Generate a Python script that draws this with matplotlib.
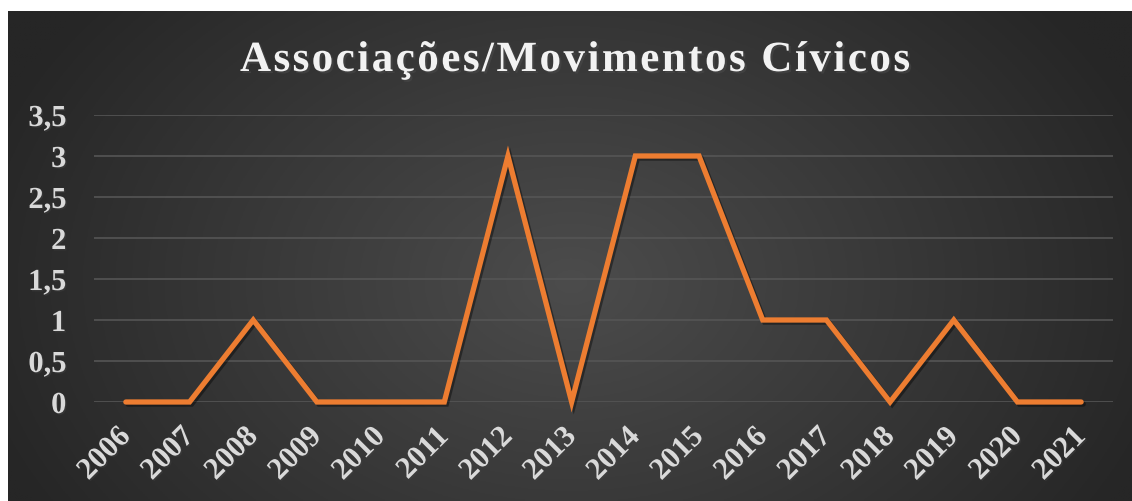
import numpy as np
import matplotlib
matplotlib.use("Agg")
import matplotlib.pyplot as plt
import matplotlib.patheffects as pe

# データ
years = ["2006", "2007", "2008", "2009", "2010", "2011", "2012", "2013",
         "2014", "2015", "2016", "2017", "2018", "2019", "2020", "2021"]
values = [0, 0, 1, 0, 0, 0, 3, 0, 3, 3, 1, 1, 0, 1, 0, 0]
yticks = [0, 0.5, 1, 1.5, 2, 2.5, 3, 3.5]
ytick_labels = ["0", "0,5", "1", "1,5", "2", "2,5", "3", "3,5"]
title = "Associações/Movimentos Cívicos"

W, H = 1132, 502
fig = plt.figure(figsize=(W / 100, H / 100), dpi=100, facecolor="white")

# 背景のグラデーション
bg = fig.add_axes([8 / W, 0, 1 - 8 / W, (H - 12) / H])
ny, nx = 200, 450
yy, xx = np.mgrid[0:ny, 0:nx]
cx, cy = nx * 0.5, ny * 0.55
r = np.sqrt(((xx - cx) / (nx * 0.55)) ** 2 + ((yy - cy) / (ny * 0.9)) ** 2)
r = np.clip(r, 0, 1)
light, dark = 0x4c / 255, 0x26 / 255
img = light + (dark - light) * r
bg.imshow(np.dstack([img, img, img]), aspect="auto", extent=[0, 1, 0, 1])
bg.set_axis_off()

ax = fig.add_axes([94 / W, (H - 403) / H, (1113 - 94) / W, (403 - 116) / H])
ax.set_facecolor("none")
x = np.arange(len(years))

shadow = [pe.SimpleLineShadow(offset=(1.5, -1.5), shadow_color="black", alpha=0.4), pe.Normal()]
ax.plot(x, values, color="#ED7D31", lw=3.8, solid_capstyle="round",
        solid_joinstyle="miter", clip_on=False, zorder=3, path_effects=shadow)

ax.set_xlim(-0.5, len(years) - 0.5)
ax.set_ylim(0, 3.5)
ax.set_yticks(yticks)
ax.grid(axis="y", color="#555555", lw=1.2)
ax.set_axisbelow(True)
for s in ax.spines.values():
    s.set_visible(False)
ax.tick_params(length=0)

ax.set_yticklabels(ytick_labels, fontfamily="Liberation Serif", fontweight="bold",
                   fontsize=22, color="#d9d9d9")
ax.tick_params(axis="y", pad=20)
ax.set_xticks(x)
ax.set_xticklabels(years, fontfamily="Liberation Serif", fontweight="bold",
                   fontsize=22, color="#d9d9d9", rotation=45,
                   ha="right", va="center", rotation_mode="anchor")
ax.tick_params(axis="x", pad=22)
for t in ax.get_xticklabels() + ax.get_yticklabels():
    t.set_path_effects([pe.SimplePatchShadow(offset=(1, -1), alpha=0.5), pe.Normal()])

# タイトル（字間を広げて1文字ずつ配置）
tprops = dict(fontfamily="Liberation Serif", fontweight="bold", fontsize=31,
              color="#f2f2f2",
              path_effects=[pe.SimplePatchShadow(offset=(1.5, -1.5), alpha=0.6), pe.Normal()])
renderer = fig.canvas.get_renderer()

def text_w(s):
    t = fig.text(0, 0, s, **tprops)
    w = t.get_window_extent(renderer).width
    t.remove()
    return w

bar_w = text_w("|")
adv = [text_w(c + "|") - bar_w for c in title]
left_px, right_px = 240, 910
gap = ((right_px - left_px) - sum(adv)) / (len(title) - 1)
xpos = left_px
base_y = (H - 72) / H
for c, a in zip(title, adv):
    fig.text(xpos / W, base_y, c, ha="left", va="baseline", **tprops)
    xpos += a + gap

fig.savefig("out.png", dpi=100, facecolor="white")
